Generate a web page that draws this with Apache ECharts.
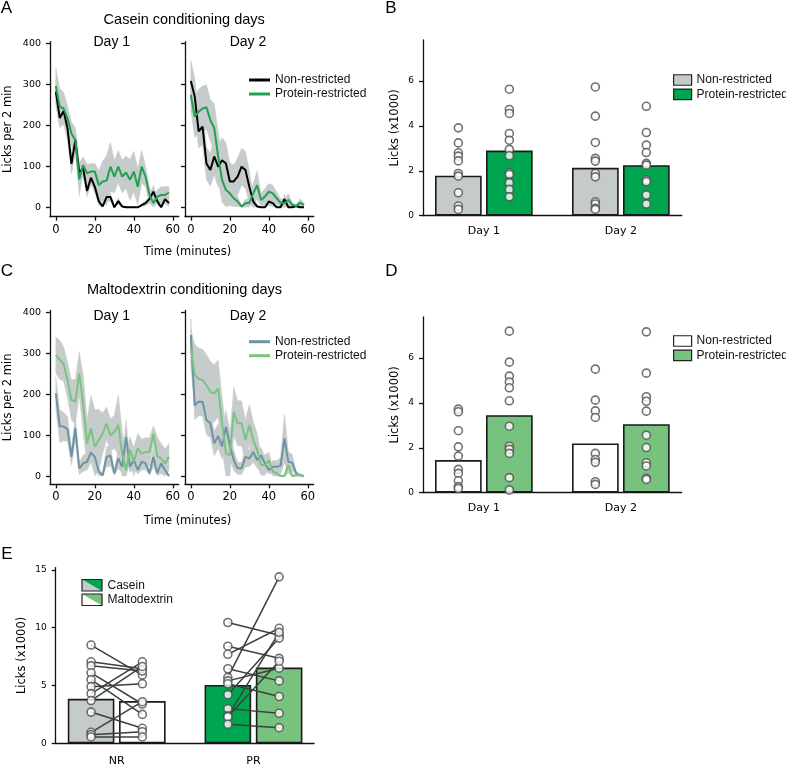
<!DOCTYPE html>
<html><head><meta charset="utf-8">
<script src="https://cdn.jsdelivr.net/npm/echarts@6/dist/echarts.min.js"></script>
<style>html,body{margin:0;padding:0;background:#fff}#c{width:786px;height:764px}</style>
</head><body><div id="c"></div>
<script>
// ---------------- data ----------------
const minutes = [0,2,4,6,8,10,12,14,16,18,20,22,24,26,28,30,32,34,36,38,40,42,44,46,48,50,52,54,56,58];
const timeTicks = [0,20,40,60];
const countTicks = [0,100,200,300,400];
const lickTicksBD = [0,2,4,6];
const lickTicksE = [0,5,10,15];
const dayCats = ['Day 1','Day 2'];
const groupCats = ['NR','PR'];

const caseinDay1NR    = [282,218,235,192,106,164,85,95,40,72,50,15,2,25,25,0,15,2,0,0,0,0,5,10,20,38,15,0,20,10];
const caseinDay1NRsem = [30,25,30,30,25,30,20,20,15,15,15,10,2,10,10,0,8,2,0,0,0,0,4,6,10,15,10,0,10,8];
const caseinDay1PR    = [296,245,241,217,180,164,68,103,83,87,87,54,63,65,99,75,99,75,85,67,87,50,99,75,30,10,26,30,30,36];
const caseinDay1PRsem = [44,45,40,30,28,30,40,20,22,20,20,35,50,60,60,40,40,40,40,50,50,45,40,25,20,15,16,20,20,15];

const caseinDay2NR    = [308,270,185,197,107,91,124,99,115,107,63,63,75,99,91,50,14,2,0,0,14,10,0,0,20,0,0,3,0,0];
const caseinDay2NRsem = [50,45,40,45,40,40,45,50,55,50,45,40,45,45,45,40,15,5,0,0,10,8,0,0,12,0,0,3,0,0];
const caseinDay2PR    = [274,221,233,241,244,213,193,124,67,42,34,22,14,2,10,11,34,54,18,26,38,34,22,11,10,18,6,3,11,6];
const caseinDay2PRsem = [40,50,55,55,55,50,60,60,55,40,30,20,12,2,10,10,25,35,15,20,20,20,15,10,10,15,5,3,10,5];

const maltoDay1NR    = [202,122,121,115,47,117,19,31,35,58,47,11,2,47,50,7,43,23,96,23,39,15,35,31,7,47,7,31,15,0];
const maltoDay1NRsem = [40,40,35,30,20,30,15,20,20,25,25,10,2,25,25,5,25,15,40,15,20,10,20,15,5,25,5,20,10,0];
const maltoDay1PR    = [296,284,274,235,186,182,251,178,80,117,72,88,104,129,100,108,125,55,15,64,35,68,55,59,59,103,49,43,31,47];
const maltoDay1PRsem = [44,48,42,44,49,55,53,70,57,80,90,75,50,40,40,40,73,57,40,32,35,36,35,35,35,20,47,37,35,33];

const maltoDay2NR    = [345,173,182,182,137,129,80,98,72,121,76,39,19,19,47,43,59,39,51,31,15,23,23,25,92,35,33,7,2,0];
const maltoDay2NRsem = [40,35,35,35,35,35,30,30,30,40,35,25,15,15,25,20,25,20,20,15,10,15,15,20,60,25,20,5,2,0];
const maltoDay2PR    = [312,247,238,235,222,206,202,214,129,55,51,157,129,129,88,125,88,64,27,27,39,11,7,0,0,27,0,2,2,0];
const maltoDay2PRsem = [45,75,75,75,75,75,70,70,65,60,50,60,55,55,50,50,45,40,25,25,20,10,8,3,3,20,3,3,3,3];

const barsB_NR = [1.78, 2.13];
const barsB_PR = [2.90, 2.25];
const barsD_NR = [1.45, 2.19];
const barsD_PR = [3.45, 3.05];
const barsE_casein = [3.85, 5.05];
const barsE_malto  = [3.65, 6.55];

const ptsB_NR_day1 = [3.91,3.24,2.80,2.65,2.44,1.88,1.76,1.02,0.43,0.28];
const ptsB_PR_day1 = [5.63,4.73,4.55,3.66,3.36,2.95,2.67,1.91,1.84,1.47,1.17,0.84];
const ptsB_NR_day2 = [5.73,4.43,3.26,2.55,2.43,1.88,1.73,0.62,0.52,0.33,0.28];
const ptsB_PR_day2 = [4.87,3.70,3.14,2.81,2.33,2.25,1.59,1.51,0.92,0.52];
const ptsD_NR_day1 = [3.72,3.60,2.76,2.04,1.63,1.04,0.86,0.53,0.27,0.19];
const ptsD_PR_day1 = [7.19,5.81,5.19,4.93,4.67,4.09,2.96,2.07,1.93,1.75,0.67,0.12];
const ptsD_NR_day2 = [5.50,4.12,3.64,3.35,1.75,1.48,1.35,0.49,0.37];
const ptsD_PR_day2 = [7.16,5.32,4.27,4.07,3.63,2.56,2.01,1.33,1.19,0.64,0.59];

const eNR_casein = [8.5,7.05,6.7,6.1,5.5,4.9,4.3,3.7,2.7,0.95,0.75,0.55];
const eNR_malto  = [5.9,6.45,6.25,3.4,2.5,5.15,7.05,6.65,1.3,3.6,1.0,0.55];
const ePR_casein = [10.45,8.4,7.7,6.45,5.7,5.4,5.15,4.2,3.0,2.35,2.3,1.65];
const ePR_malto  = [9.35,7.35,9.95,5.4,14.4,6.5,4.05,9.1,2.6,9.6,7.1,1.35];

// ---------------- style ----------------
const COL = {
  black:'#000000', green:'#22a04f', lightGreen:'#79c47f', blue:'#6e93a4',
  band:'#c6cccb', barGray:'#c5cbca', barGreen:'#00a54f', barLight:'#77c27e',
  white:'#ffffff', edge:'#1a1a1a', marker:'#4d4d4d', pair:'#3a4040'
};
const TICKF = 'DejaVu Sans';
const TEXTF = 'Liberation Sans';
const AX = {color:'#111', width:1.3};
const BAR_W = 46.7, BAR_OFF = 25.5;
const E_BAR_W = 46.6, E_OFF = 25.65;

function valAxis(gi, min, max, ticks, opts) {
  opts = opts || {};
  return Object.assign({
    gridIndex: gi, type:'value', min, max,
    axisLine:{show:true, onZero:false, lineStyle:AX},
    axisTick:{show:true, length:4, lineStyle:AX, customValues:ticks},
    axisLabel:{show: opts.labels !== false, customValues:ticks, fontFamily:TICKF, fontSize: opts.fs || 9.5, color:'#000', margin: opts.margin || 8},
    splitLine:{show:false}
  }, opts.extra || {});
}
function yName(name, gap) {
  return {extra:{name, nameLocation:'middle', nameGap:gap, nameTextStyle:{fontFamily:TICKF, fontSize:11.5, color:'#000'}}};
}
function bandSeries(gi, mean, sem) {
  return {type:'custom', xAxisIndex:gi, yAxisIndex:gi, silent:true, z:1, data:[[0,0]],
    renderItem(params, api) {
      const up = minutes.map((t,i)=>api.coord([t, mean[i]+sem[i]]));
      const lo = minutes.map((t,i)=>api.coord([t, Math.max(0, mean[i]-sem[i])])).reverse();
      return {type:'polygon', shape:{points: up.concat(lo)}, style:{fill:COL.band, stroke:COL.band, lineWidth:0.5}};
    }};
}
function lineSeries(gi, name, mean, color) {
  return {type:'line', name, xAxisIndex:gi, yAxisIndex:gi, data: minutes.map((t,i)=>[t, mean[i]]),
    symbol:'none', showSymbol:false, lineStyle:{color, width:2}, itemStyle:{color}, z:3, silent:true};
}
function barSeries(gi, name, values, color) {
  return {type:'bar', name, xAxisIndex:gi, yAxisIndex:gi, data:values, barWidth:BAR_W, barGap:'9.2%',
    itemStyle:{color, borderColor:COL.edge, borderWidth:1.6}, z:2, silent:true};
}
function dotSeries(gi, groups, off) {
  return {type:'scatter', xAxisIndex:gi, yAxisIndex:gi, symbol:'circle', symbolSize:8, symbolOffset:[off,0],
    data: groups.flatMap((pts, ci) => pts.map(v => [ci, v])),
    itemStyle:{color:'#fff', borderColor:COL.marker, borderWidth:1.6}, z:5, silent:true};
}
function catAxis(gi, cats, margin) {
  return {gridIndex:gi, type:'category', data:cats, axisLine:{show:false}, axisTick:{show:false},
    axisLabel:{fontFamily:TICKF, fontSize:11, color:'#000', margin:margin}, splitLine:{show:false}};
}
function hiddenVal(gi, min, max) {
  return {gridIndex:gi, type:'value', min, max, show:false, splitLine:{show:false}};
}
function lineOnlyX(gi) {
  return {gridIndex:gi, type:'value', min:0, max:1, axisLine:{show:true, onZero:false, lineStyle:AX},
    axisTick:{show:false}, axisLabel:{show:false}, splitLine:{show:false}};
}
const fmt = n => n.split('|')[1];

const G = (left, top, width, height) => ({left, top, width, height, containLabel:false, outerBoundsMode:'none'});
const grid = [
  G(50, 41.7, 128.7, 175), G(185, 41.7, 128.7, 175),
  G(50, 310.4, 128.7, 173.9), G(185, 310.4, 128.7, 173.9),
  G(423, 40, 258.7, 175.7), G(415.35, 40, 274, 175.7),
  G(423, 317, 258.7, 175.7), G(415.35, 317, 274, 175.7),
  G(55.7, 567.6, 258.3, 175.7), G(48.3, 567.6, 273.6, 175.7)
];

const xTime = gi => valAxis(gi, -3, 63, timeTicks, {fs:11.5, margin:7});
const xAxis = [
  xTime(0), xTime(1), xTime(2), xTime(3),
  lineOnlyX(4), catAxis(5, dayCats, 10),
  lineOnlyX(6), catAxis(7, dayCats, 10),
  lineOnlyX(8), catAxis(9, groupCats, 12)
];
const yAxis = [
  valAxis(0, -23, 404, countTicks, Object.assign({margin:9, fs:9.5}, yName('Licks per 2 min', 36))),
  valAxis(1, -23, 404, countTicks, {labels:false}),
  valAxis(2, -20, 405, countTicks, Object.assign({margin:9, fs:9.5}, yName('Licks per 2 min', 36))),
  valAxis(3, -20, 405, countTicks, {labels:false}),
  valAxis(4, 0, 7.82, lickTicksBD, Object.assign({margin:9, fs:9}, yName('Licks (x1000)', 22))),
  hiddenVal(5, 0, 7.82),
  valAxis(6, 0, 7.82, lickTicksBD, Object.assign({margin:9, fs:9}, yName('Licks (x1000)', 22))),
  hiddenVal(7, 0, 7.82),
  valAxis(8, 0, 15.2, lickTicksE, Object.assign({margin:9, fs:9}, yName('Licks (x1000)', 28))),
  hiddenVal(9, 0, 15.2)
];

const ePairs = [
  ...eNR_casein.map((c,i)=>[0, c, eNR_malto[i]]),
  ...ePR_casein.map((c,i)=>[1, c, ePR_malto[i]])
];

const series = [
  bandSeries(0, caseinDay1NR, caseinDay1NRsem), bandSeries(0, caseinDay1PR, caseinDay1PRsem),
  bandSeries(1, caseinDay2NR, caseinDay2NRsem), bandSeries(1, caseinDay2PR, caseinDay2PRsem),
  bandSeries(2, maltoDay1NR, maltoDay1NRsem), bandSeries(2, maltoDay1PR, maltoDay1PRsem),
  bandSeries(3, maltoDay2NR, maltoDay2NRsem), bandSeries(3, maltoDay2PR, maltoDay2PRsem),
  lineSeries(0, 'A|Non-restricted', caseinDay1NR, COL.black),
  lineSeries(0, 'A|Protein-restricted', caseinDay1PR, COL.green),
  lineSeries(1, 'A|Non-restricted', caseinDay2NR, COL.black),
  lineSeries(1, 'A|Protein-restricted', caseinDay2PR, COL.green),
  lineSeries(2, 'C|Non-restricted', maltoDay1NR, COL.blue),
  lineSeries(2, 'C|Protein-restricted', maltoDay1PR, COL.lightGreen),
  lineSeries(3, 'C|Non-restricted', maltoDay2NR, COL.blue),
  lineSeries(3, 'C|Protein-restricted', maltoDay2PR, COL.lightGreen),
  barSeries(5, 'B|Non-restricted', barsB_NR, COL.barGray),
  barSeries(5, 'B|Protein-restricted', barsB_PR, COL.barGreen),
  dotSeries(5, [ptsB_NR_day1, ptsB_NR_day2], -BAR_OFF),
  dotSeries(5, [ptsB_PR_day1, ptsB_PR_day2], BAR_OFF),
  barSeries(7, 'D|Non-restricted', barsD_NR, COL.white),
  barSeries(7, 'D|Protein-restricted', barsD_PR, COL.barLight),
  dotSeries(7, [ptsD_NR_day1, ptsD_NR_day2], -BAR_OFF),
  dotSeries(7, [ptsD_PR_day1, ptsD_PR_day2], BAR_OFF),
  {type:'bar', name:'E|Casein', xAxisIndex:9, yAxisIndex:9, barWidth:E_BAR_W, barGap:'10%', z:2, silent:true,
   itemStyle:{borderColor:COL.edge, borderWidth:1.6},
   data: barsE_casein.map((v,i)=>({value:v, itemStyle:{color: i===0 ? COL.barGray : COL.barGreen}}))},
  {type:'bar', name:'E|Maltodextrin', xAxisIndex:9, yAxisIndex:9, barWidth:E_BAR_W, barGap:'10%', z:2, silent:true,
   itemStyle:{borderColor:COL.edge, borderWidth:1.6},
   data: barsE_malto.map((v,i)=>({value:v, itemStyle:{color: i===0 ? COL.white : COL.barLight}}))},
  {type:'custom', xAxisIndex:9, yAxisIndex:9, z:4, silent:true, data:ePairs, encode:{x:0, y:[1,2]},
   renderItem(params, api) {
     const cat = api.value(0);
     const a = api.coord([cat, api.value(1)]);
     const b = api.coord([cat, api.value(2)]);
     return {type:'line', shape:{x1:a[0]-E_OFF, y1:a[1], x2:b[0]+E_OFF, y2:b[1]}, style:{stroke:COL.pair, lineWidth:1.5}};
   }},
  {type:'scatter', xAxisIndex:9, yAxisIndex:9, symbol:'circle', symbolSize:8, symbolOffset:[-E_OFF,0], z:5, silent:true,
   data:[...eNR_casein.map(v=>[0,v]), ...ePR_casein.map(v=>[1,v])],
   itemStyle:{color:'#fff', borderColor:COL.marker, borderWidth:1.6}},
  {type:'scatter', xAxisIndex:9, yAxisIndex:9, symbol:'circle', symbolSize:8, symbolOffset:[E_OFF,0], z:5, silent:true,
   data:[...eNR_malto.map(v=>[0,v]), ...ePR_malto.map(v=>[1,v])],
   itemStyle:{color:'#fff', borderColor:COL.marker, borderWidth:1.6}}
];

const LT = {fontFamily:TEXTF, fontSize:12, color:'#111', lineHeight:14};
const legend = [
  {data:['A|Non-restricted','A|Protein-restricted'], left:249, top:73, orient:'vertical', padding:0, icon:'rect',
   itemWidth:21, itemHeight:3, itemGap:0, formatter:fmt, textStyle:LT, itemStyle:{borderWidth:0}, selectedMode:false},
  {data:['C|Non-restricted','C|Protein-restricted'], left:249, top:334.7, orient:'vertical', padding:0, icon:'rect',
   itemWidth:21, itemHeight:3, itemGap:0, formatter:fmt, textStyle:LT, itemStyle:{borderWidth:0}, selectedMode:false},
  {data:['B|Non-restricted','B|Protein-restricted'], left:673, top:73, orient:'vertical', padding:0, icon:'rect',
   itemWidth:18, itemHeight:10.5, itemGap:0.3, formatter:fmt, textStyle:LT, selectedMode:false,
   itemStyle:{borderColor:'#222', borderWidth:1.2}},
  {data:['D|Non-restricted','D|Protein-restricted'], left:673, top:334, orient:'vertical', padding:0, icon:'rect',
   itemWidth:18, itemHeight:10.5, itemGap:0.3, formatter:fmt, textStyle:LT, selectedMode:false,
   itemStyle:{borderColor:'#222', borderWidth:1.2}}
];

const texts = [
  ['A', 6.5, 8.5, TEXTF, 17], ['B', 391, 8.5, TEXTF, 17], ['C', 7, 271, TEXTF, 17],
  ['D', 391.5, 271, TEXTF, 17], ['E', 7, 554.5, TEXTF, 17],
  ['Casein conditioning days', 184.2, 19.5, TEXTF, 14.5],
  ['Maltodextrin conditioning days', 184.5, 290, TEXTF, 14.5],
  ['Day 1', 111.8, 42.4, TEXTF, 14], ['Day 2', 248, 42.4, TEXTF, 14],
  ['Day 1', 111.8, 315.8, TEXTF, 14], ['Day 2', 248, 315.8, TEXTF, 14],
  ['Time (minutes)', 187.5, 252, TICKF, 11.5], ['Time (minutes)', 187.5, 521.4, TICKF, 11.5]
];
const graphic = texts.map(([t,x,y,ff,fs]) => ({type:'text', x, y, silent:true,
  style:{text:t, fontFamily:ff, fontSize:fs, fill:'#000', align:'center', verticalAlign:'middle'}}));

function splitBox(y, c1, c2) {
  return {type:'group', x:82, y, silent:true, children:[
    {type:'polygon', shape:{points:[[0,0],[0,11.5],[20,11.5]]}, style:{fill:c1}},
    {type:'polygon', shape:{points:[[0,0],[20,0],[20,11.5]]}, style:{fill:c2}},
    {type:'rect', shape:{x:0,y:0,width:20,height:11.5}, style:{fill:null, stroke:'#222', lineWidth:1.2}}
  ]};
}
graphic.push(splitBox(579.5, COL.barGray, COL.barGreen));
graphic.push(splitBox(594, COL.white, COL.barLight));
graphic.push({type:'text', x:107.5, y:585.3, silent:true, style:{text:'Casein', fontFamily:TEXTF, fontSize:12, fill:'#111', align:'left', verticalAlign:'middle'}});
graphic.push({type:'text', x:107.5, y:600, silent:true, style:{text:'Maltodextrin', fontFamily:TEXTF, fontSize:12, fill:'#111', align:'left', verticalAlign:'middle'}});

const chart = echarts.init(document.getElementById('c'), null, {renderer:'canvas'});
chart.setOption({animation:false, backgroundColor:'#fff', grid, xAxis, yAxis, series, legend, graphic});
</script>
</body></html>
